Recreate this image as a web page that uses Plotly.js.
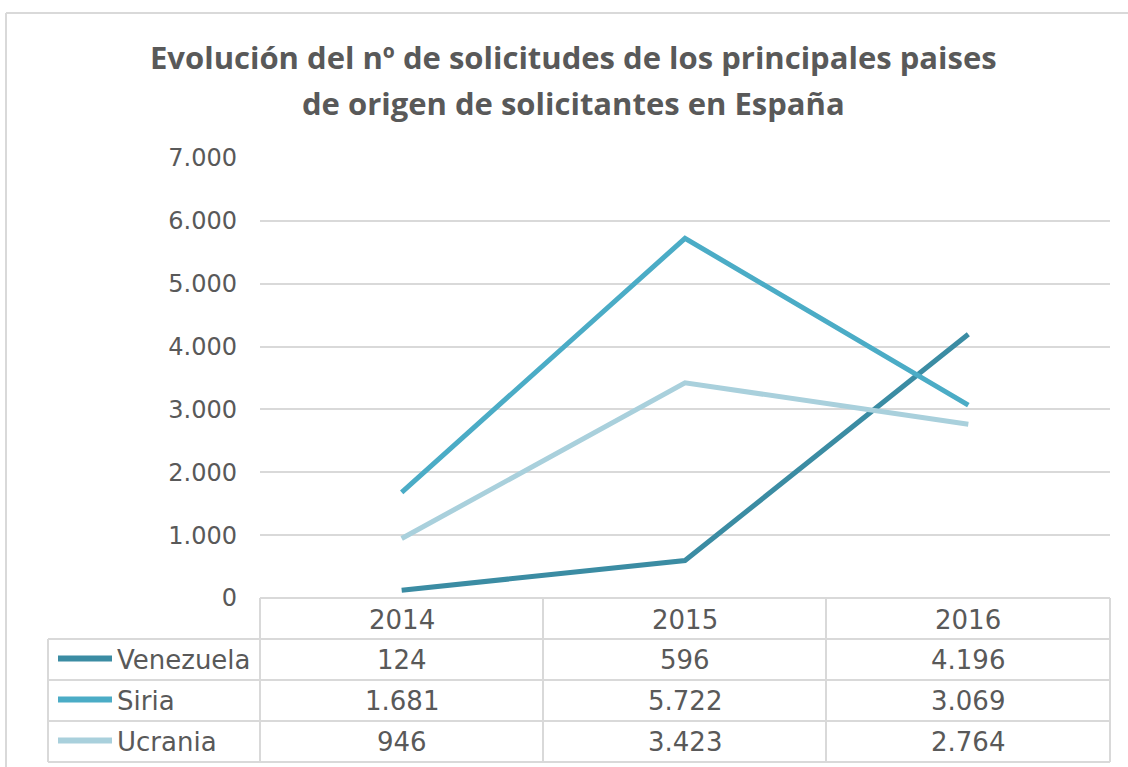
<!DOCTYPE html>
<html>
<head>
<meta charset="utf-8">
<script src="https://cdn.plot.ly/plotly-3.0.1.min.js"></script>
<style>html,body{margin:0;padding:0;background:#fff;}#chart{width:1128px;height:767px;}</style>
</head>
<body>
<div id="chart"></div>
<script>
const years = ['2014', '2015', '2016'];
const seriesNames = ['Venezuela', 'Siria', 'Ucrania'];
const venezuela = [124, 596, 4196];
const siria = [1681, 5722, 3069];
const ucrania = [946, 3423, 2764];
const seriesColors = ['#3b8ca3', '#4bacc6', '#a9d0dc'];
const titleLines = ['Evolución del nº de solicitudes de los principales paises', 'de origen de solicitantes en España'];

const W = 1128, H = 767;
const L = 260, R = 18, T = 158, B = 169;
const PW = W - L - R, PH = H - T - B;
const px = x => (x - L) / PW;
const py = y => (H - B - y) / PH;
const txt = '#595959';
const grid = '#d9d9d9';

function fmt(v) {
  return String(v).replace(/\B(?=(\d{3})+(?!\d))/g, '.');
}

const allSeries = [venezuela, siria, ucrania];
const traces = allSeries.map((vals, i) => ({
  type: 'scatter', mode: 'lines', x: years, y: vals, name: seriesNames[i],
  line: {color: seriesColors[i], width: 5}, hoverinfo: 'skip', showlegend: false
}));

// table geometry (pixels)
const rowTop = [598, 639, 680, 721, 762];
const colX = [48, 260, 543, 826, 1110];

const shapes = [];
const lineStyle = {color: grid, width: 2};
// outer chart border
shapes.push({type: 'line', xref: 'paper', yref: 'paper', x0: px(6), x1: px(1140), y0: py(13), y1: py(13), line: {color: '#d9d9d9', width: 2}});
shapes.push({type: 'line', xref: 'paper', yref: 'paper', x0: px(6), x1: px(6), y0: py(13), y1: py(780), line: {color: '#d9d9d9', width: 2}});
// horizontal table lines
shapes.push({type: 'line', xref: 'paper', yref: 'paper', x0: px(260), x1: px(1110), y0: py(598), y1: py(598), line: lineStyle});
for (let r = 1; r < rowTop.length; r++) {
  shapes.push({type: 'line', xref: 'paper', yref: 'paper', x0: px(48), x1: px(1110), y0: py(rowTop[r]), y1: py(rowTop[r]), line: lineStyle});
}
// vertical table lines
shapes.push({type: 'line', xref: 'paper', yref: 'paper', x0: px(48), x1: px(48), y0: py(639), y1: py(762), line: lineStyle});
for (let c = 1; c < colX.length; c++) {
  shapes.push({type: 'line', xref: 'paper', yref: 'paper', x0: px(colX[c]), x1: px(colX[c]), y0: py(598), y1: py(762), line: lineStyle});
}

const annotations = [];
// title
titleLines.forEach((t, i) => {
  annotations.push({text: '<b>' + t + '</b>', xref: 'paper', yref: 'paper', x: px(573), y: py(57 + i * 46),
    xanchor: 'center', yanchor: 'middle', showarrow: false,
    font: {family: '"Open Sans", sans-serif', size: 31, color: txt}});
});
const tfont = {family: '"DejaVu Sans", Verdana, sans-serif', size: 26, color: txt};
// header (category index on the x axis)
years.forEach((yr, j) => {
  annotations.push({text: yr, xref: 'x', yref: 'paper', x: j, y: py((rowTop[0] + rowTop[1]) / 2 + 1),
    xanchor: 'center', yanchor: 'middle', showarrow: false, font: tfont});
});
// rows
allSeries.forEach((vals, i) => {
  const cy = (rowTop[i + 1] + rowTop[i + 2]) / 2;
  shapes.push({type: 'line', xref: 'paper', yref: 'paper', x0: px(58), x1: px(112), y0: py(cy - 1), y1: py(cy - 1),
    line: {color: seriesColors[i], width: 6}});
  annotations.push({text: seriesNames[i], xref: 'paper', yref: 'paper', x: px(115), y: py(cy),
    xanchor: 'left', yanchor: 'middle', showarrow: false, font: tfont});
  vals.forEach((v, j) => {
    annotations.push({text: fmt(v), xref: 'x', yref: 'paper', x: j, y: py(cy),
      xanchor: 'center', yanchor: 'middle', showarrow: false, font: tfont});
  });
});

const layout = {
  width: W, height: H,
  margin: {l: L, r: R, t: T, b: B, pad: 0},
  paper_bgcolor: '#fff', plot_bgcolor: '#fff',
  separators: ',.',
  showlegend: false,
  xaxis: {type: 'category', range: [-0.5, 2.5], showticklabels: false, showgrid: false, zeroline: false, showline: false, ticks: '', fixedrange: true},
  yaxis: {range: [0, 7000], dtick: 1000, tickformat: ',d', showgrid: true, gridcolor: grid, gridwidth: 2,
    zeroline: false, showline: false, ticks: '', ticklabelstandoff: 22,
    tickfont: {family: '"DejaVu Sans", Verdana, sans-serif', size: 24, color: txt}, fixedrange: true},
  shapes: shapes,
  annotations: annotations
};

Plotly.newPlot('chart', traces, layout, {displayModeBar: false, staticPlot: true});
</script>
</body>
</html>
